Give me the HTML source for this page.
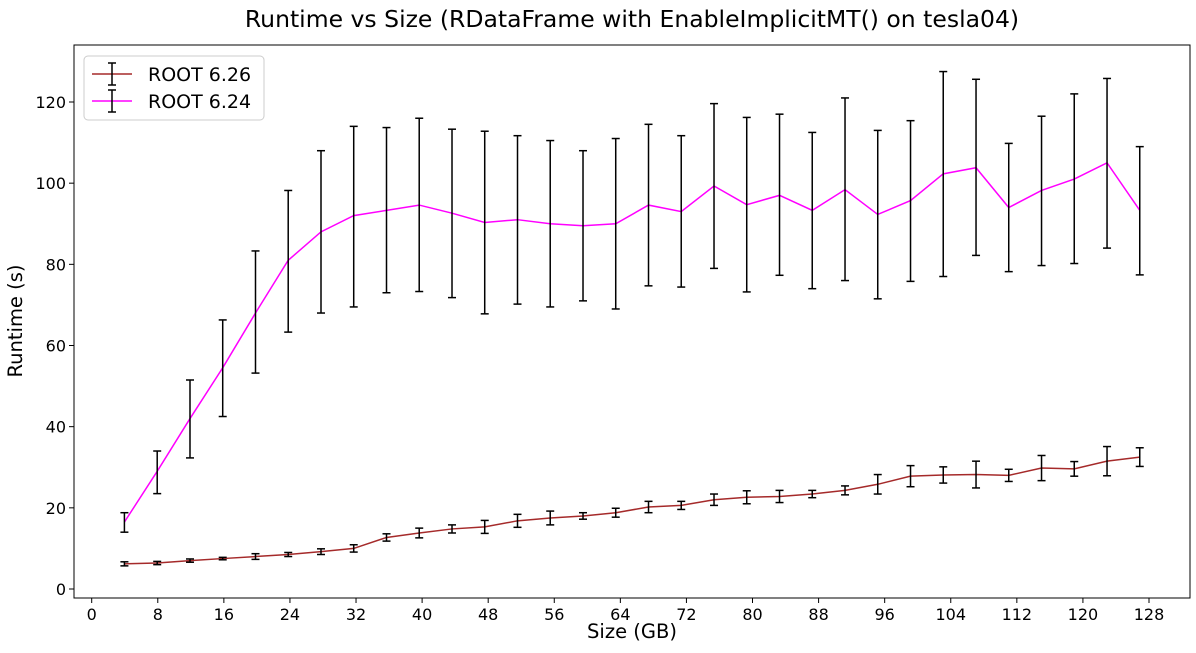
<!DOCTYPE html>
<html><head><meta charset="utf-8"><style>
body{margin:0;background:#fff;font-family:"Liberation Sans","DejaVu Sans",sans-serif;}
svg text{font-family:"DejaVu Sans","Liberation Sans",sans-serif;}
</style></head><body>
<svg id="chart" width="1196" height="648" xmlns="http://www.w3.org/2000/svg"></svg>
<script>
const sizes = [3.96,7.93,11.9,15.86,19.83,23.79,27.76,31.72,35.69,39.65,43.62,47.58,51.55,55.51,59.48,63.44,67.41,71.37,75.34,79.3,83.27,87.23,91.2,95.16,99.13,103.09,107.06,111.02,114.99,118.95,122.92,126.88];
const root624 = [16.5,29,42,54.5,68,81,88,92,93.3,94.6,92.6,90.3,91,90,89.5,90,94.6,93,99.3,94.7,97,93.3,98.4,92.3,95.7,102.3,103.8,94,98.2,101,105,93.3];
const root624Low = [14.0,23.5,32.3,42.5,53.2,63.3,68,69.5,73,73.3,71.8,67.8,70.2,69.5,71,69,74.7,74.4,79,73.2,77.3,74,76,71.5,75.8,77,82.2,78.2,79.7,80.2,84,77.4];
const root624High = [18.8,34,51.5,66.3,83.3,98.2,108,114,113.7,116,113.3,112.8,111.7,110.5,108,111,114.5,111.7,119.6,116.2,117,112.5,121,113,115.4,127.5,125.6,109.8,116.5,122,125.8,109];
const root626 = [6.2,6.4,7,7.5,8,8.5,9.2,10,12.7,13.8,14.8,15.3,16.8,17.5,18,18.8,20.2,20.6,22,22.6,22.8,23.4,24.3,25.8,27.8,28.1,28.2,28,29.8,29.6,31.5,32.5];
const root626Err = [0.5,0.4,0.4,0.3,0.7,0.5,0.7,0.9,0.9,1.2,1,1.6,1.6,1.7,0.8,1.1,1.4,1,1.4,1.6,1.5,0.9,1.1,2.4,2.6,2,3.3,1.5,3.1,1.8,3.6,2.3];
const xTicks = [0,8,16,24,32,40,48,56,64,72,80,88,96,104,112,120,128];
const yTicks = [0,20,40,60,80,100,120];

const svg = document.getElementById('chart');
const NS = 'http://www.w3.org/2000/svg';
const L=74,R=1190,T=45,B=598;
const xs = v => 91.7 + v*(1149-91.7)/128;
const ys = v => 589 - v*(589-102)/120;
function mk(tag, attrs, parent){const e=document.createElementNS(NS,tag);for(const k in attrs)e.setAttribute(k,attrs[k]);(parent||svg).appendChild(e);return e;}

let t=mk('text',{x:632,y:27,'text-anchor':'middle','font-size':23.5,fill:'#000'});t.textContent='Runtime vs Size (RDataFrame with EnableImplicitMT() on tesla04)';



const frame=mk('rect',{x:L,y:T,width:R-L,height:B-T,fill:'none',stroke:'#000','stroke-width':1});



xTicks.forEach(v=>{
  const x=xs(v);
  mk('line',{x1:x,x2:x,y1:B,y2:B+5,stroke:'#000'});
  const tx=mk('text',{x:x,y:B+22,'text-anchor':'middle','font-size':16});tx.textContent=v;
  
  
});
yTicks.forEach(v=>{
  const y=ys(v);
  mk('line',{x1:L-5,x2:L,y1:y,y2:y,stroke:'#000'});
  const tx=mk('text',{x:L-8,y:y+6,'text-anchor':'end','font-size':16});tx.textContent=v;
  
  
});
t=mk('text',{x:632,y:638,'text-anchor':'middle','font-size':19.5});t.textContent='Size (GB)';


t=mk('text',{x:22,y:321,'text-anchor':'middle','font-size':19.5,transform:'rotate(-90 22 321)'});t.textContent='Runtime (s)';



function series(vals, lo, hi, color, name){
  const g=mk('g',{});
  
  
  mk('polyline',{points:vals.map((v,i)=>xs(sizes[i])+','+ys(v)).join(' '),fill:'none',stroke:color,'stroke-width':1.5},g);
  vals.forEach((v,i)=>{
    const x=xs(sizes[i]);
    const eb=mk('g',{stroke:'#000','stroke-width':1.5},g);
    
    
    mk('line',{x1:x,x2:x,y1:ys(lo[i]),y2:ys(hi[i])},eb);
    mk('line',{x1:x-4,x2:x+4,y1:ys(lo[i]),y2:ys(lo[i])},eb);
    mk('line',{x1:x-4,x2:x+4,y1:ys(hi[i]),y2:ys(hi[i])},eb);
  });
}
series(root626, root626.map((v,i)=>v-root626Err[i]), root626.map((v,i)=>v+root626Err[i]), '#a52a2a', 'series-root-6-26');
series(root624, root624Low, root624High, '#ff00ff', 'series-root-6-24');

const lg=mk('g',{});


mk('rect',{x:84,y:56,width:180,height:64,rx:4,fill:'#fff',stroke:'#ccc'},lg);
[['ROOT 6.26','#a52a2a',74],['ROOT 6.24','#ff00ff',101]].forEach(([lab,c,y])=>{
  const e=mk('g',{},lg);
  
  
  mk('line',{x1:92,x2:132,y1:y,y2:y,stroke:c,'stroke-width':1.5},e);
  mk('line',{x1:112,x2:112,y1:y-11,y2:y+11,stroke:'#000','stroke-width':1.5},e);
  mk('line',{x1:108,x2:116,y1:y-11,y2:y-11,stroke:'#000','stroke-width':1.5},e);
  mk('line',{x1:108,x2:116,y1:y+11,y2:y+11,stroke:'#000','stroke-width':1.5},e);
  const tx=mk('text',{x:148,y:y+7,'font-size':19},e);tx.textContent=lab;
});
</script>
</body></html>
